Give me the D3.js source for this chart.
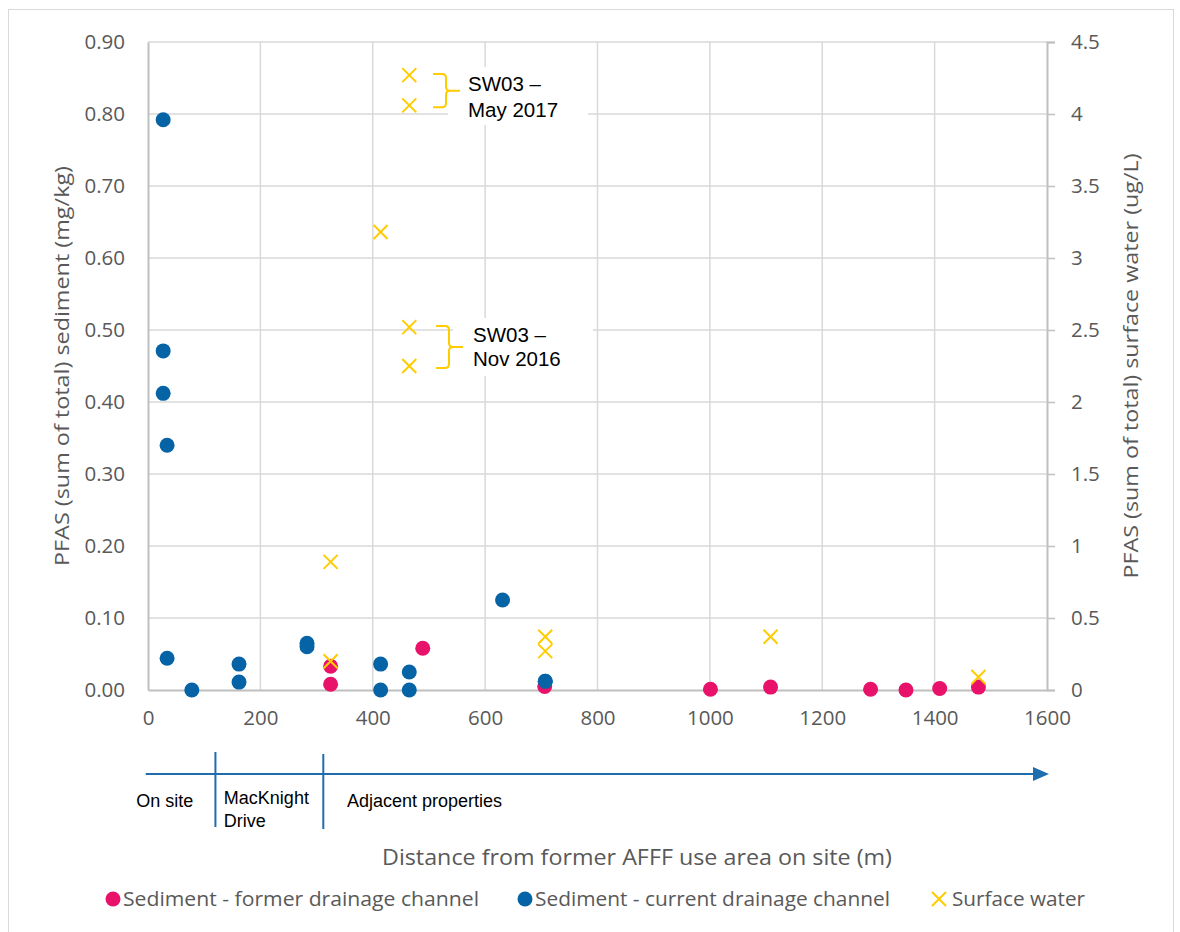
<!DOCTYPE html>
<html>
<head>
<meta charset="utf-8">
<script src="https://cdn.jsdelivr.net/npm/d3@7"></script>
<style>
  body { margin: 0; background: #fff; }
  text { font-family: "Open Sans", sans-serif; }
</style>
</head>
<body>
<svg id="chart" width="1180" height="932"></svg>
<script>
// data: [distance (m), value]
const formerChannel = [[325, 0.033], [325, 0.008], [489, 0.058], [706, 0.005], [1001, 0.001],
  [1108, 0.004], [1286, 0.001], [1349, 0.0], [1409, 0.002], [1478, 0.004]];
const currentChannel = [[27, 0.792], [27, 0.471], [27, 0.412], [34, 0.340], [34, 0.044],
  [78, 0.0], [162, 0.036], [162, 0.011], [283, 0.065], [283, 0.060], [414, 0.036], [414, 0.0],
  [465, 0.025], [465, 0.0], [631, 0.125], [707, 0.012]];
const surfaceWater = [[465, 4.27], [465, 4.06], [414, 3.18], [465, 2.52], [465, 2.25],
  [325, 0.89], [325, 0.20], [707, 0.37], [707, 0.27], [1108, 0.37], [1478, 0.09]];
const xTicks = [0, 200, 400, 600, 800, 1000, 1200, 1400, 1600];
const yLeftTicks = [0, 0.1, 0.2, 0.3, 0.4, 0.5, 0.6, 0.7, 0.8, 0.9];
const yRightTicks = [0, 0.5, 1, 1.5, 2, 2.5, 3, 3.5, 4, 4.5];
// zone boundaries along distance axis, label start in metres
const zones = [{ label: ['On site'], at: -21 }, { label: ['MacKnight', 'Drive'], at: 135 },
  { label: ['Adjacent properties'], at: 354 }];
const zoneEdges = [120, 312];
const legendItems = ['Sediment - former drainage channel', 'Sediment - current drainage channel', 'Surface water'];

const pink = '#E8126A', blue = '#0563A6', yellow = '#FFCC00', arrowBlue = '#1F6DAE';
const grid = '#D9D9D9', axisCol = '#BFBFBF', textCol = '#595959';
const arial = '"Liberation Sans", Arial, sans-serif';

const svg = d3.select('#chart');
const margin = { left: 148, right: 1047, top: 42, bottom: 690 };

// outer frame
svg.append('rect').attr('x', 8.5).attr('y', 9.5).attr('width', 1165).attr('height', 940)
  .attr('fill', 'none').attr('stroke', '#D9D9D9');

const x = d3.scaleLinear().domain([0, 1600]).range([margin.left, margin.right]);
const yL = d3.scaleLinear().domain([0, 0.9]).range([margin.bottom, margin.top]);
const yR = d3.scaleLinear().domain([0, 4.5]).range([margin.bottom, margin.top]);

// gridlines
svg.append('g').selectAll('line').data(yLeftTicks.slice(1)).join('line')
  .attr('x1', margin.left).attr('x2', margin.right)
  .attr('y1', d => yL(d)).attr('y2', d => yL(d))
  .attr('stroke', grid).attr('stroke-width', 1.5);
svg.append('g').selectAll('line').data(xTicks.slice(1, -1)).join('line')
  .attr('x1', d => x(d)).attr('x2', d => x(d))
  .attr('y1', margin.top).attr('y2', margin.bottom)
  .attr('stroke', grid).attr('stroke-width', 1.5);

// axes
const xAxisG = svg.append('g').attr('transform', `translate(0,${margin.bottom})`)
  .call(d3.axisBottom(x).tickValues(xTicks).tickSize(0).tickPadding(20).tickFormat(d3.format('d')));
const yLG = svg.append('g').attr('transform', `translate(${margin.left},0)`)
  .call(d3.axisLeft(yL).tickValues(yLeftTicks).tickSize(0).tickPadding(23).tickFormat(d3.format('.2f')));
const yRG = svg.append('g').attr('transform', `translate(${margin.right},0)`)
  .call(d3.axisRight(yR).tickValues(yRightTicks).tickSize(8).tickPadding(16).tickFormat(d => d));
[xAxisG, yLG, yRG].forEach(g => {
  g.select('.domain').attr('stroke', axisCol).attr('stroke-width', 2);
  g.selectAll('.tick line').attr('stroke', axisCol).attr('stroke-width', 1.5);
  g.selectAll('.tick text').attr('fill', textCol).style('font-size', '20.5px')
    .style('font-family', '"Open Sans", sans-serif');
});
xAxisG.selectAll('.tick text').attr('dy', '0.71em');

// axis titles
svg.append('text').attr('transform', 'translate(69,366) rotate(-90)').attr('text-anchor', 'middle')
  .attr('fill', textCol).style('font-size', '20.5px').attr('textLength', 400).attr('lengthAdjust', 'spacingAndGlyphs')
  .text('PFAS (sum of total) sediment (mg/kg)');
svg.append('text').attr('transform', 'translate(1138,366) rotate(-90)').attr('text-anchor', 'middle')
  .attr('fill', textCol).style('font-size', '20.5px').attr('textLength', 425).attr('lengthAdjust', 'spacingAndGlyphs')
  .text('PFAS (sum of total) surface water (ug/L)');
svg.append('text').attr('x', 637).attr('y', 865).attr('text-anchor', 'middle')
  .attr('fill', textCol).style('font-size', '21px').attr('textLength', 510).attr('lengthAdjust', 'spacingAndGlyphs')
  .text('Distance from former AFFF use area on site (m)');

// annotation boxes + braces
const notes = [
  { lines: ['SW03 \u2013', 'May 2017'], top: 4.27, bot: 4.06, bx: 433, tx: 468, ty: [91, 117] },
  { lines: ['SW03 \u2013', 'Nov 2016'], top: 2.52, bot: 2.25, bx: 436, tx: 473, ty: [342, 366] }
];
notes.forEach(n => {
  const y1 = yR(n.top) - 1, y2 = yR(n.bot) + 2, ym = (y1 + y2) / 2;
  svg.append('rect').attr('x', n.tx - 20).attr('y', n.ty[0] - 24).attr('width', 140).attr('height', 58).attr('fill', '#fff');
  svg.append('path')
    .attr('d', `M${n.bx},${y1} h9 q4,0 4,4 V${ym - 4} q0,4 4,4 h10 M${n.bx + 17},${ym} q-4,0 -4,4 V${y2 - 4} q0,4 -4,4 h-9`)
    .attr('fill', 'none').attr('stroke', yellow).attr('stroke-width', 2);
  n.lines.forEach((l, i) => svg.append('text').attr('x', n.tx).attr('y', n.ty[i]).attr('fill', '#000')
    .style('font-family', arial).style('font-size', '20.5px').text(l));
});

// markers
svg.append('g').selectAll('circle').data(currentChannel).join('circle')
  .attr('cx', d => x(d[0])).attr('cy', d => yL(d[1])).attr('r', 7.5).attr('fill', blue);
svg.append('g').selectAll('circle').data(formerChannel).join('circle')
  .attr('cx', d => x(d[0])).attr('cy', d => yL(d[1])).attr('r', 7.5).attr('fill', pink);
// blue over pink at ~707 m
svg.append('circle').attr('cx', x(currentChannel[15][0])).attr('cy', yL(currentChannel[15][1])).attr('r', 7.5).attr('fill', blue);
const xs = 7;
svg.append('g').selectAll('path').data(surfaceWater).join('path')
  .attr('d', d => `M${x(d[0]) - xs},${yR(d[1]) - xs}L${x(d[0]) + xs},${yR(d[1]) + xs}M${x(d[0]) - xs},${yR(d[1]) + xs}L${x(d[0]) + xs},${yR(d[1]) - xs}`)
  .attr('stroke', yellow).attr('stroke-width', 2).attr('fill', 'none');

// zone arrow
const arrowY = 774;
svg.append('line').attr('x1', x(-4)).attr('x2', x(1600) - 12).attr('y1', arrowY).attr('y2', arrowY)
  .attr('stroke', arrowBlue).attr('stroke-width', 2);
svg.append('path').attr('d', `M${x(1600) + 2},${arrowY} l-16,-7 v14 z`).attr('fill', arrowBlue);
svg.append('g').selectAll('line').data(zoneEdges).join('line')
  .attr('x1', d => x(d)).attr('x2', d => x(d)).attr('y1', (d, i) => 752 + i * 2).attr('y2', (d, i) => 827 + i * 2)
  .attr('stroke', arrowBlue).attr('stroke-width', 2);
zones.forEach(z => {
  const t = svg.append('text').attr('y', z.label.length > 1 ? 804 : 807)
    .attr('fill', '#000').style('font-family', arial).style('font-size', '18px');
  z.label.forEach((l, i) => t.append('tspan').attr('x', x(z.at)).attr('dy', i ? 23 : 0).text(l));
});

// legend
const legendX = [113, 525, 939];
const legendW = [356, 355, 133];
legendItems.forEach((name, i) => {
  const g = svg.append('g').attr('transform', `translate(${legendX[i]},899)`);
  if (i === 0) g.append('circle').attr('r', 7.5).attr('fill', pink);
  else if (i === 1) g.append('circle').attr('r', 7.5).attr('fill', blue);
  else g.append('path').attr('d', 'M-7,-7L7,7M-7,7L7,-7').attr('stroke', yellow).attr('stroke-width', 2);
  g.append('text').attr('x', i === 2 ? 13 : 10).attr('y', 7).attr('fill', textCol).style('font-size', '20.5px')
    .attr('textLength', legendW[i]).attr('lengthAdjust', 'spacingAndGlyphs').text(name);
});
</script>
</body>
</html>
